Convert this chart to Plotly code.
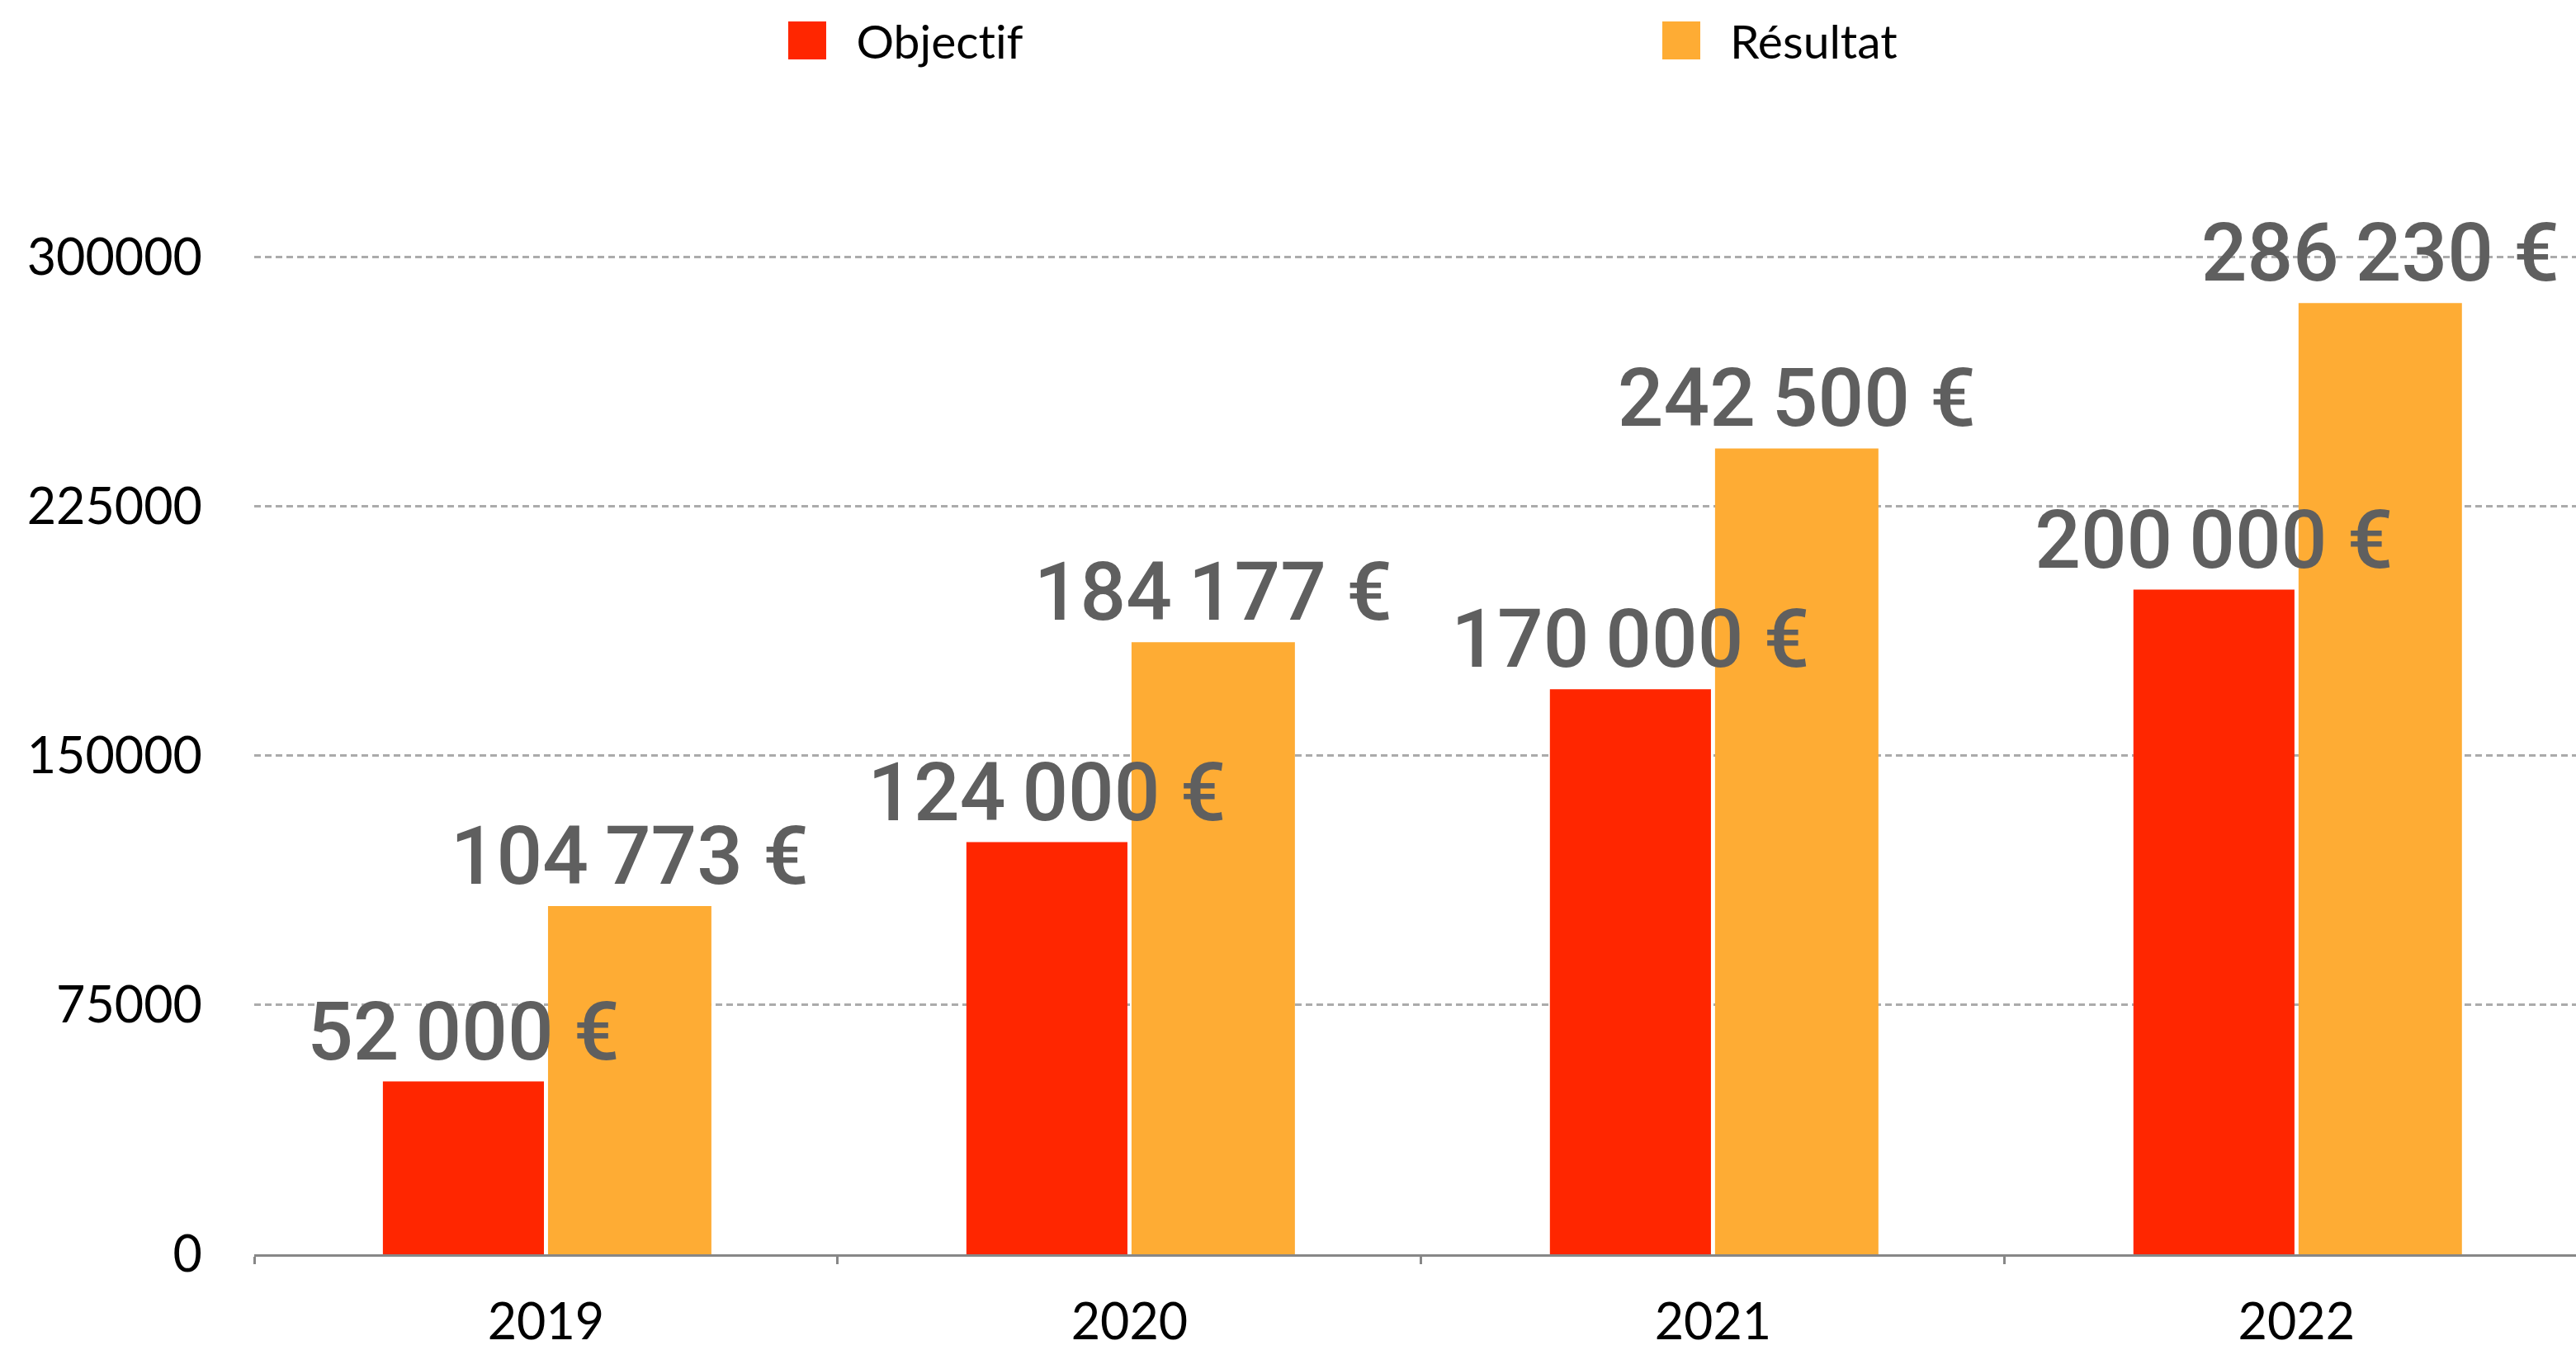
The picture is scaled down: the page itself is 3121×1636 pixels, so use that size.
import plotly.graph_objects as go

# ---- data ----
years = ["2019", "2020", "2021", "2022"]
objectif = [52000, 124000, 170000, 200000]
resultat = [104773, 184177, 242500, 286230]
series_names = ["Objectif", "Résultat"]
y_ticks = [0, 75000, 150000, 225000, 300000]

RED = "#FF2600"
ORANGE = "#FEAC34"
LABEL_GREY = "#5F5F5F"

W, H = 3121, 1636
ML, MR, MT, MB = 308, 0, 191, 116
PW, PH = W - ML - MR, H - MT - MB

# bar geometry in category units (style)
BAR_W = [0.276, 0.280]
BAR_OFF = [-0.2795, 0.0035]


def fmt(v):
    s = f"{v:,}".replace(",", "\u2009")
    return s + " €"


def px_to_paper(x, y):
    return (x - ML) / PW, (H - MB - y) / PH


label_font = dict(family="Roboto, Liberation Sans, sans-serif", size=98, color=LABEL_GREY, weight=500)

fig = go.Figure()
series = [(series_names[0], objectif, RED), (series_names[1], resultat, ORANGE)]
# bars
for i, (name, vals, col) in enumerate(series):
    fig.add_trace(go.Bar(
        x=years, y=vals, name=name,
        width=BAR_W[i], offset=BAR_OFF[i],
        marker=dict(color=col, line=dict(width=0)),
        showlegend=False, hoverinfo="skip",
    ))
# value labels drawn on top of all bars
for i, (name, vals, col) in enumerate(series):
    fig.add_trace(go.Bar(
        x=years, y=vals, name=name + " labels",
        width=BAR_W[i], offset=BAR_OFF[i],
        marker=dict(color="rgba(0,0,0,0)", line=dict(width=0)),
        text=[fmt(v) for v in vals],
        textposition="outside",
        textfont=label_font,
        constraintext="none",
        cliponaxis=False,
        showlegend=False,
    ))

# manual legend (large square swatches)
legend_items = [(series_names[0], RED, 955), (series_names[1], ORANGE, 2014)]
shapes = []
annotations = []
for name, col, x0 in legend_items:
    ax0, ay0 = px_to_paper(x0, 72)
    ax1, ay1 = px_to_paper(x0 + 46, 26)
    shapes.append(dict(type="rect", xref="paper", yref="paper", x0=ax0, x1=ax1, y0=ay0, y1=ay1,
                       fillcolor=col, line=dict(width=0)))
    tx, ty = px_to_paper(x0 + 80, 49)
    annotations.append(dict(text=name, xref="paper", yref="paper", x=tx, y=ty, xanchor="left",
                            yanchor="middle", showarrow=False,
                            font=dict(family="Lato, sans-serif", size=57, color="#000000")))

fig.update_layout(
    width=W, height=H,
    margin=dict(l=ML, r=MR, t=MT, b=MB, pad=0, autoexpand=False),
    paper_bgcolor="white", plot_bgcolor="white",
    barmode="overlay",
    showlegend=False,
    shapes=shapes, annotations=annotations,
    font=dict(family="Lato, sans-serif", size=60, color="#000000"),
)
fig.update_xaxes(
    type="category", range=[-0.5, 3.479], automargin=False,
    showline=True, linecolor="#878787", linewidth=3,
    ticks="outside", tickson="boundaries", ticklen=9, tickwidth=3, tickcolor="#878787",
    showgrid=False, zeroline=False,
    tickfont=dict(family="Lato, sans-serif", size=61, color="#000000"),
    ticklabelstandoff=27,
)
fig.update_yaxes(
    range=[0, 330000], tickvals=y_ticks, ticktext=[str(v) for v in y_ticks], automargin=False,
    showline=False, zeroline=False, ticks="",
    showgrid=True, gridcolor="#ABABAB", gridwidth=2.5, griddash="8px,5px",
    tickfont=dict(family="Lato, sans-serif", size=61, color="#000000"),
    ticklabelstandoff=62,
)

post = (
    "document.body.style.margin='0';"
    "var s=document.createElement('style');"
    "s.textContent='text{font-variant-ligatures:none !important;font-feature-settings:\"liga\" 0 !important;}';"
    "document.head.appendChild(s);"
)
fig.write_html("out.html", config={"displayModeBar": False}, post_script=post)
